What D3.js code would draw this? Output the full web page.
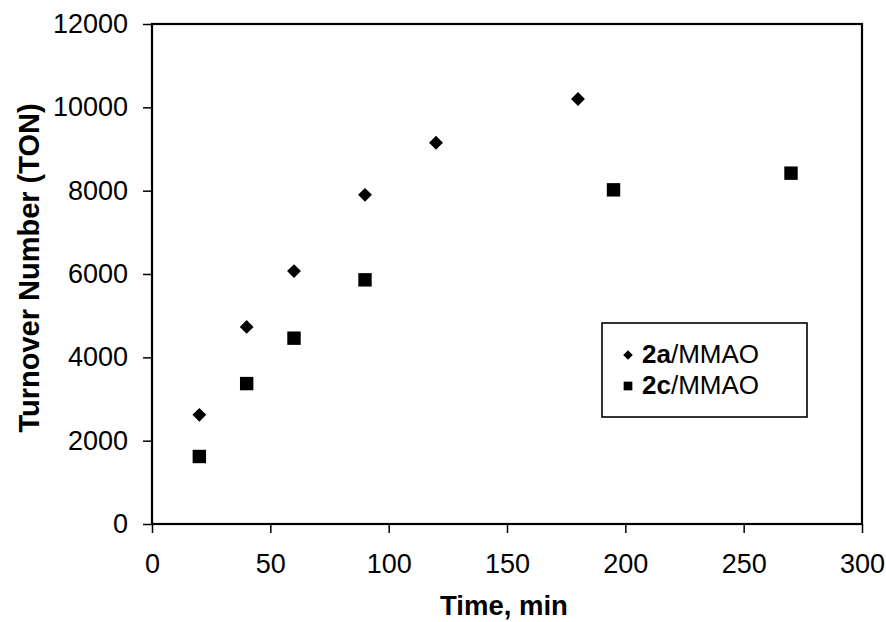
<!DOCTYPE html>
<html>
<head>
<meta charset="utf-8">
<script src="https://cdn.jsdelivr.net/npm/d3@7"></script>
<style>
  html, body { margin: 0; padding: 0; background: #fff; }
  svg { display: block; }
  text { font-family: "Liberation Sans", Arial, Helvetica, sans-serif; fill: #000; }
</style>
</head>
<body>
<svg id="chart" width="886" height="622"></svg>
<script>
// ---- data ----
const timeA = [20, 40, 60, 90, 120, 180];
const tonA  = [2620, 4730, 6070, 7900, 9150, 10200];
const timeC = [20, 40, 60, 90, 195, 270];
const tonC  = [1620, 3370, 4460, 5860, 8020, 8420];
const xTicks = [0, 50, 100, 150, 200, 250, 300];
const yTicks = [0, 2000, 4000, 6000, 8000, 10000, 12000];
const seriesNames = ["2a", "2c"];
const seriesSuffix = "/MMAO";
const xTitle = "Time, min";
const yTitle = "Turnover Number (TON)";

// ---- layout ----
const svg = d3.select("#chart");
const m = { left: 152, top: 24, right: 862, bottom: 524 };
const x = d3.scaleLinear().domain([0, 300]).range([m.left, m.right]);
const y = d3.scaleLinear().domain([0, 12000]).range([m.bottom, m.top]);

// axes
const yAxis = d3.axisLeft(y).tickValues(yTicks).tickSize(9).tickPadding(15).tickFormat(d3.format("d"));
const xAxis = d3.axisBottom(x).tickValues(xTicks).tickSize(9).tickPadding(21).tickFormat(d3.format("d"));

const gy = svg.append("g").attr("transform", `translate(${m.left},0)`).call(yAxis);
const gx = svg.append("g").attr("transform", `translate(0,${m.bottom})`).call(xAxis);
[gx, gy].forEach(g => {
  g.select(".domain").remove();
  g.selectAll(".tick line").attr("stroke", "#000").attr("stroke-width", 1.5);
  g.selectAll(".tick text").style("font-size", "27px").attr("fill", "#000");
});

// plot frame
svg.append("rect")
  .attr("x", m.left).attr("y", m.top)
  .attr("width", m.right - m.left).attr("height", m.bottom - m.top)
  .attr("fill", "none").attr("stroke", "#000").attr("stroke-width", 2.2);

// markers
const ptsA = timeA.map((t, i) => ({ t, v: tonA[i] }));
const ptsC = timeC.map((t, i) => ({ t, v: tonC[i] }));

svg.append("g").selectAll("path").data(ptsA).join("path")
  .attr("d", d3.symbol().type(d3.symbolSquare).size(96)())
  .attr("transform", d => `translate(${x(d.t)},${y(d.v)}) rotate(45)`)
  .attr("fill", "#000");

svg.append("g").selectAll("path").data(ptsC).join("path")
  .attr("d", d3.symbol().type(d3.symbolSquare).size(180)())
  .attr("transform", d => `translate(${x(d.t)},${y(d.v)})`)
  .attr("fill", "#000");

// axis titles
svg.append("text")
  .attr("x", 504).attr("y", 615)
  .attr("text-anchor", "middle")
  .style("font-size", "27.5px").style("font-weight", "bold")
  .text(xTitle);

svg.append("text")
  .attr("transform", "translate(39,268) rotate(-90)")
  .attr("text-anchor", "middle")
  .style("font-size", "29px").style("font-weight", "bold")
  .text(yTitle);

// legend
const lg = svg.append("g");
lg.append("rect")
  .attr("x", 602).attr("y", 323).attr("width", 205).attr("height", 94)
  .attr("fill", "#fff").attr("stroke", "#000").attr("stroke-width", 1.6);

const legendRows = [
  { name: seriesNames[0], sym: "diamond", ty: 363 },
  { name: seriesNames[1], sym: "square", ty: 394 }
];
legendRows.forEach(r => {
  const sy = r.ty - 8;
  if (r.sym === "diamond") {
    lg.append("path")
      .attr("d", d3.symbol().type(d3.symbolSquare).size(46)())
      .attr("transform", `translate(628,${sy}) rotate(45)`).attr("fill", "#000");
  } else {
    lg.append("path")
      .attr("d", d3.symbol().type(d3.symbolSquare).size(76)())
      .attr("transform", `translate(628,${sy})`).attr("fill", "#000");
  }
  const t = lg.append("text").attr("x", 642).attr("y", r.ty).style("font-size", "26px");
  t.append("tspan").style("font-weight", "bold").text(r.name);
  t.append("tspan").text(seriesSuffix);
});
</script>
</body>
</html>
